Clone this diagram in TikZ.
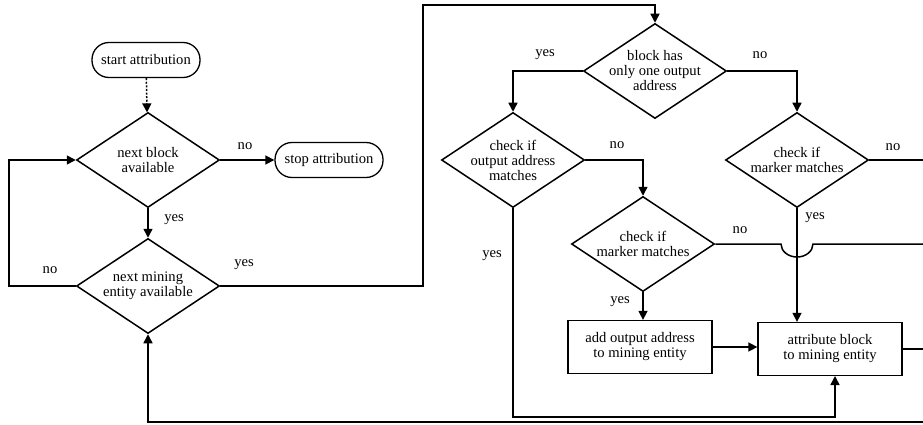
\documentclass[tikz,border=0pt]{standalone}
\usepackage{fontspec}
\setmainfont{Liberation Serif}
\usetikzlibrary{shapes.geometric,arrows.meta}
\begin{document}
\begin{tikzpicture}[x=1pt,y=-1pt,
 every node/.style={font=\fontsize{14.6}{15}\selectfont},
 dec/.style={diamond, draw, line width=1.5pt, minimum width=143pt, minimum height=95pt, inner sep=0pt},
 term/.style={draw, rounded corners=17pt, line width=1.3pt, minimum width=108pt, minimum height=35pt, inner sep=0pt},
 proc/.style={draw, line width=1.3pt, minimum width=144pt, minimum height=53pt, align=center, inner sep=0pt},
 txt/.style={align=center, inner sep=0pt},
 conn/.style={line width=1.5pt},
 arr/.style={conn, -{Triangle[length=9pt,width=9pt]}},
 lbl/.style={inner sep=0pt}]
\useasboundingbox (0,0) rectangle (923,425);
% nodes
\node[term] (start) at (146,60) {start attribution};
\node[dec] (d1) at (148,160) {};
\node[txt] (t1) at (d1) {next block\\available};
\node[term] (stop) at (329,160) {stop attribution};
\node[dec] (d2) at (148,286) {};
\node[txt] (t2) at (d2) {next mining\\entity available};
\node[dec] (d3) at (655,71) {};
\node[txt] (t3) at (d3) {block has\\only one output\\address};
\node[dec] (d4) at (513,160) {};
\node[txt] (t4) at (d4) {check if\\output address\\matches};
\node[dec] (d6) at (797,160) {};
\node[txt] (t6) at (d6) {check if\\marker matches};
\node[dec] (d5) at (643,244) {};
\node[txt] (t5) at (d5) {check if\\marker matches};
\node[proc] (p1) at (640,347) {add output address\\to mining entity};
\node[proc] (p2) at (830,349) {attribute block\\to mining entity};
% coordinates
\coordinate (top) at (423,5);
\coordinate (bot) at (513,417);
\coordinate (b2) at (835,376);
\coordinate (E6) at (923,160);
\coordinate (E5) at (923,244);
\coordinate (EP) at (923,349);
\coordinate (E4) at (923,422);
\coordinate (J) at (781,244);
% connectors
\draw[arr, dash pattern=on 2pt off 1.6pt] (start) -- (d1);
\draw[arr] (d1.east) -- (stop.west);
\draw[arr] (d1.south) -- (d2.north);
\draw[arr] (d2.west) -- ++(-67,0) |- (d1.west);
\draw[arr] (d2.east) -| (top) -| (d3.north);
\draw[arr] (d3.west) -| (d4.north);
\draw[arr] (d3.east) -| (d6.north);
\draw[arr] (d4.east) -| (d5.north);
\draw[arr] (d5.south) -- (d5.south |- p1.north);
\draw[arr] (p1.east) -- (p1.east -| p2.west);
\draw[arr] (d6.south) -- (d6.south |- p2.north);
\draw[arr] (d4.south) |- (bot) -| (b2);
\draw[conn] (d6.east) -- (E6);
\draw[conn] (d5.east) -- (J) arc(180:0:16 and 13) -- (E5);
\draw[conn] (p2.east) -- (EP);
\draw[arr] (E4) -| (d2.south);
% labels
\node[lbl] at (245,146) {no};
\node[lbl] at (174,220) {yes};
\node[lbl] at (50,270) {no};
\node[lbl] at (244,265) {yes};
\node[lbl] at (545,55) {yes};
\node[lbl] at (760,55) {no};
\node[lbl] at (617,145) {no};
\node[lbl] at (893,147) {no};
\node[lbl] at (492,256) {yes};
\node[lbl] at (740,230) {no};
\node[lbl] at (620,302) {yes};
\node[lbl] at (815,218) {yes};
\end{tikzpicture}
\end{document}
